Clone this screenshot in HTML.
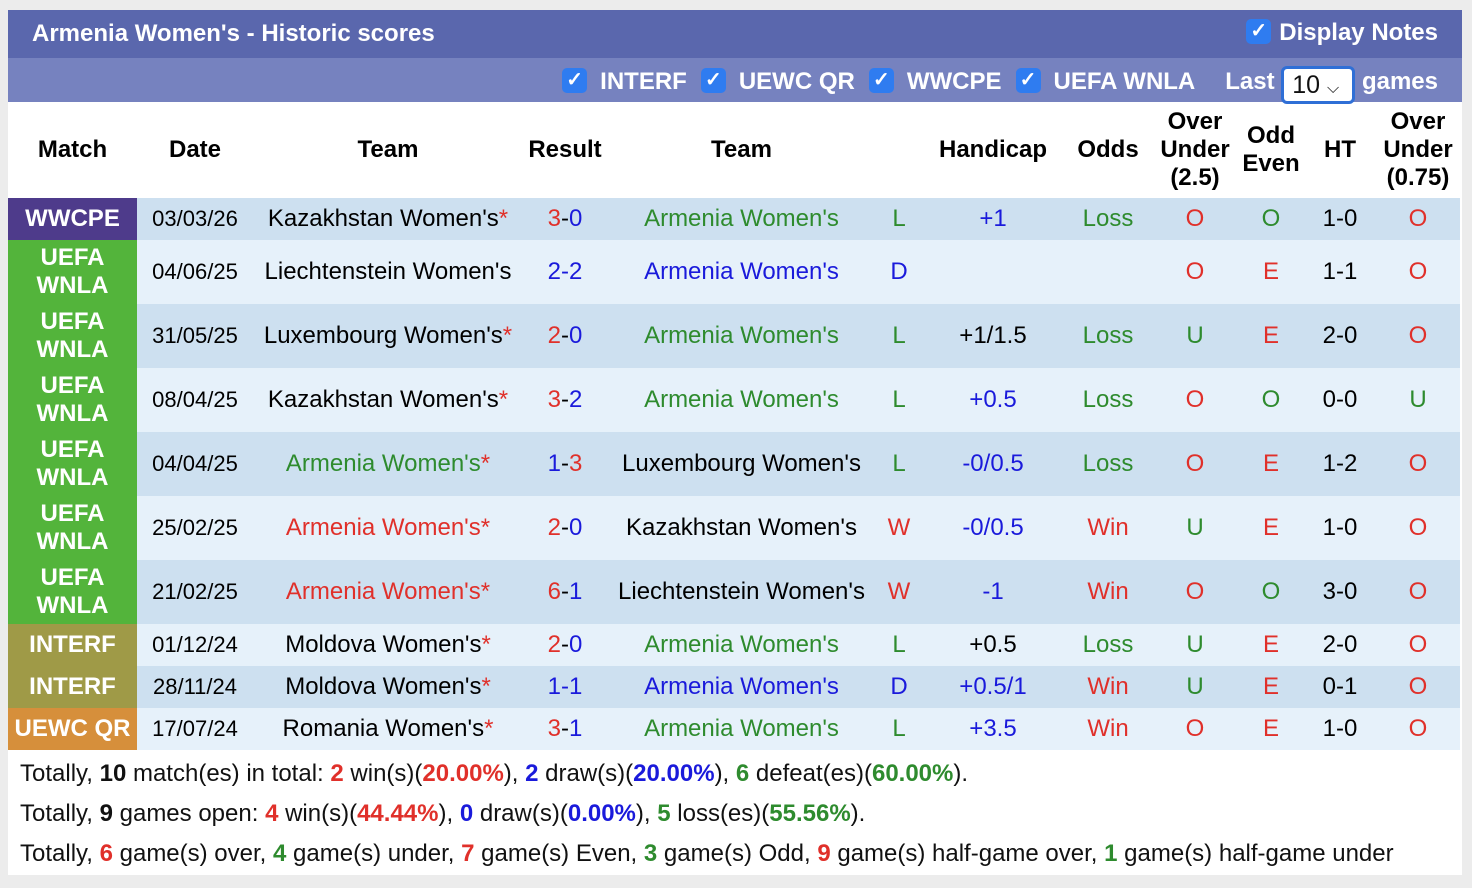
<!DOCTYPE html>
<html><head><meta charset="utf-8"><style>
body{margin:0;width:1472px;height:888px;background:#ececec;font-family:"Liberation Sans",Arial,sans-serif;position:relative;overflow:hidden}
.p{position:absolute;left:8px;top:10px;width:1454px;height:865px;background:#fff}
.h1{position:absolute;left:0;top:0;width:1454px;height:48px;background:#5a67ad;color:#fff;font-weight:bold;font-size:24px}
.h2{position:absolute;left:0;top:48px;width:1454px;height:44px;background:#7682bf;color:#fff;font-weight:bold;font-size:24px}
.cb{display:inline-block;width:25px;height:25px;background:#2f7cf0;border-radius:5px;color:#fff;font-size:20px;text-align:center;line-height:25px;vertical-align:3px;margin-right:13px}
.gap{display:inline-block;width:14px}
table{position:absolute;left:0;top:92px;border-collapse:collapse;table-layout:fixed;font-size:24px}
td{padding:0;text-align:center;white-space:nowrap;line-height:28px}
th{font-size:24px;font-weight:bold;line-height:28px;height:96px;padding:0}
.d{background:#cde0f0}.l{background:#e6f1fa}
.m{color:#fff;font-weight:bold;font-size:24px;line-height:28px}
.dt{font-size:22px}
.pu{background:#4e3b8b}.g{background:#53b43b}.o{background:#9f9a47}.or{background:#d68f3b}
.r{color:#e0302a}.b{color:#1a1adb}.gr{color:#2e8b2e}.k{color:#111}
.f{position:absolute;left:12px;font-size:24px;color:#111}
</style></head><body><div class="p">
<div class="h1"><span style="position:absolute;left:24px;top:10px">Armenia Women's - Historic scores</span><span style="position:absolute;right:24px;top:9px"><span class="cb" style="margin-right:8px">✓</span>Display Notes</span></div>
<div class="h2"><span style="position:absolute;right:24px;top:8px;white-space:nowrap"><span class="cb">✓</span>INTERF<span class="gap"></span><span class="cb">✓</span>UEWC QR<span class="gap"></span><span class="cb">✓</span>WWCPE<span class="gap"></span><span class="cb">✓</span>UEFA WNLA<span class="gap" style="width:30px"></span>Last <span style="display:inline-block;width:74px;height:38px;background:#fff;border:3px solid #2f6fd6;border-radius:6px;color:#111;font-weight:normal;line-height:32px;text-align:left;padding-left:8px;box-sizing:border-box;vertical-align:-4px;font-size:25px">10 <span style="font-size:16px">⌵</span></span> games</span></div>
<table>
<colgroup><col style="width:129px"><col style="width:116px"><col style="width:270px"><col style="width:84px"><col style="width:269px"><col style="width:46px"><col style="width:142px"><col style="width:88px"><col style="width:86px"><col style="width:66px"><col style="width:72px"><col style="width:84px"></colgroup>
<tr><th>Match</th><th>Date</th><th>Team</th><th>Result</th><th>Team</th><th></th><th>Handicap</th><th>Odds</th><th>Over<br>Under<br>(2.5)</th><th>Odd<br>Even</th><th>HT</th><th>Over<br>Under<br>(0.75)</th></tr>
<tr class="d" style="height:42px"><td class="m pu">WWCPE</td><td class="dt">03/03/26</td><td>Kazakhstan Women's<span class="r">*</span></td><td><span class="r">3</span>-<span class="b">0</span></td><td class="gr">Armenia Women's</td><td class="gr">L</td><td class="b">+1</td><td class="gr">Loss</td><td class="r">O</td><td class="gr">O</td><td>1-0</td><td class="r">O</td></tr>
<tr class="l" style="height:64px"><td class="m g">UEFA<br>WNLA</td><td class="dt">04/06/25</td><td>Liechtenstein Women's</td><td class="b">2-2</td><td class="b">Armenia Women's</td><td class="b">D</td><td></td><td></td><td class="r">O</td><td class="r">E</td><td>1-1</td><td class="r">O</td></tr>
<tr class="d" style="height:64px"><td class="m g">UEFA<br>WNLA</td><td class="dt">31/05/25</td><td>Luxembourg Women's<span class="r">*</span></td><td><span class="r">2</span>-<span class="b">0</span></td><td class="gr">Armenia Women's</td><td class="gr">L</td><td>+1/1.5</td><td class="gr">Loss</td><td class="gr">U</td><td class="r">E</td><td>2-0</td><td class="r">O</td></tr>
<tr class="l" style="height:64px"><td class="m g">UEFA<br>WNLA</td><td class="dt">08/04/25</td><td>Kazakhstan Women's<span class="r">*</span></td><td><span class="r">3</span>-<span class="b">2</span></td><td class="gr">Armenia Women's</td><td class="gr">L</td><td class="b">+0.5</td><td class="gr">Loss</td><td class="r">O</td><td class="gr">O</td><td>0-0</td><td class="gr">U</td></tr>
<tr class="d" style="height:64px"><td class="m g">UEFA<br>WNLA</td><td class="dt">04/04/25</td><td class="gr">Armenia Women's<span class="r">*</span></td><td><span class="b">1</span>-<span class="r">3</span></td><td>Luxembourg Women's</td><td class="gr">L</td><td class="b">-0/0.5</td><td class="gr">Loss</td><td class="r">O</td><td class="r">E</td><td>1-2</td><td class="r">O</td></tr>
<tr class="l" style="height:64px"><td class="m g">UEFA<br>WNLA</td><td class="dt">25/02/25</td><td class="r">Armenia Women's*</td><td><span class="r">2</span>-<span class="b">0</span></td><td>Kazakhstan Women's</td><td class="r">W</td><td class="b">-0/0.5</td><td class="r">Win</td><td class="gr">U</td><td class="r">E</td><td>1-0</td><td class="r">O</td></tr>
<tr class="d" style="height:64px"><td class="m g">UEFA<br>WNLA</td><td class="dt">21/02/25</td><td class="r">Armenia Women's*</td><td><span class="r">6</span>-<span class="b">1</span></td><td>Liechtenstein Women's</td><td class="r">W</td><td class="b">-1</td><td class="r">Win</td><td class="r">O</td><td class="gr">O</td><td>3-0</td><td class="r">O</td></tr>
<tr class="l" style="height:42px"><td class="m o">INTERF</td><td class="dt">01/12/24</td><td>Moldova Women's<span class="r">*</span></td><td><span class="r">2</span>-<span class="b">0</span></td><td class="gr">Armenia Women's</td><td class="gr">L</td><td>+0.5</td><td class="gr">Loss</td><td class="gr">U</td><td class="r">E</td><td>2-0</td><td class="r">O</td></tr>
<tr class="d" style="height:42px"><td class="m o">INTERF</td><td class="dt">28/11/24</td><td>Moldova Women's<span class="r">*</span></td><td class="b">1-1</td><td class="b">Armenia Women's</td><td class="b">D</td><td class="b">+0.5/1</td><td class="r">Win</td><td class="gr">U</td><td class="r">E</td><td>0-1</td><td class="r">O</td></tr>
<tr class="l" style="height:42px"><td class="m or">UEWC QR</td><td class="dt">17/07/24</td><td>Romania Women's<span class="r">*</span></td><td><span class="r">3</span>-<span class="b">1</span></td><td class="gr">Armenia Women's</td><td class="gr">L</td><td class="b">+3.5</td><td class="r">Win</td><td class="r">O</td><td class="r">E</td><td>1-0</td><td class="r">O</td></tr>
</table>
<div class="f" style="top:750px">Totally, <b>10</b> match(es) in total: <b class="r">2</b> win(s)(<b class="r">20.00%</b>), <b class="b">2</b> draw(s)(<b class="b">20.00%</b>), <b class="gr">6</b> defeat(es)(<b class="gr">60.00%</b>).</div>
<div class="f" style="top:790px">Totally, <b>9</b> games open: <b class="r">4</b> win(s)(<b class="r">44.44%</b>), <b class="b">0</b> draw(s)(<b class="b">0.00%</b>), <b class="gr">5</b> loss(es)(<b class="gr">55.56%</b>).</div>
<div class="f" style="top:830px">Totally, <b class="r">6</b> game(s) over, <b class="gr">4</b> game(s) under, <b class="r">7</b> game(s) Even, <b class="gr">3</b> game(s) Odd, <b class="r">9</b> game(s) half-game over, <b class="gr">1</b> game(s) half-game under</div>
</div></body></html>
